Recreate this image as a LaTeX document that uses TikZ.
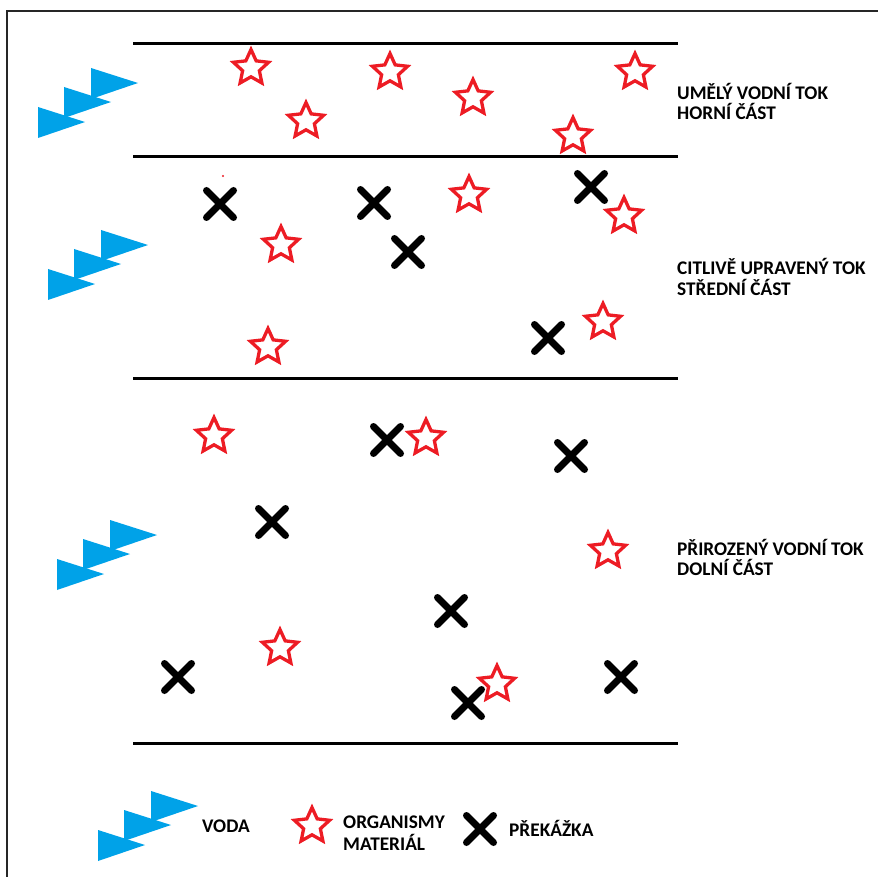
\documentclass[tikz,border=0pt]{standalone}
\usepackage{fontspec}
\setmainfont{Carlito}
\usetikzlibrary{shapes.geometric,shapes.misc}
\definecolor{paintred}{HTML}{ED1C24}
\definecolor{paintblue}{HTML}{00A2E8}
\begin{document}
\begin{tikzpicture}[x=1pt,y=-1pt,
  orgstar/.style={star, star points=5, star point ratio=2.1, draw=paintred, line width=3.3pt, fill=white, minimum size=37pt, inner sep=0pt},
  obst/.style={cross out, draw=black, line width=7pt, line cap=round, minimum size=20pt, inner sep=0pt},
  lane/.style={line width=3pt, black},
  lbl/.style={anchor=base west, inner sep=0pt, font=\fontsize{19.3}{20}\selectfont\bfseries, text=black},
  water/.pic={\foreach \dx/\dy in {0/0, 26/-20, 53/-39}
     \fill[paintblue] (\dx,\dy) -- ++(47,15) -- ++(-47,16) -- cycle;}]
\useasboundingbox (0,0) rectangle (878,877);
\fill[white] (0,0) rectangle (878,877);
% frame
\draw[line width=2pt, black!85] (7,877) -- (7,11) -- (878,11);
% lanes
\draw[lane] (133,44) -- (678,44);
\draw[lane] (133,157) -- (678,157);
\draw[lane] (133,378) -- (678,378);
\draw[lane] (133,743) -- (678,743);
% water symbols
\pic at (38,107) {water};
\pic at (48,269) {water};
\pic at (57,559) {water};
\pic at (98,830) {water};
% stray dot
\fill[paintred] (223,176) circle (1.2);
% stars
\node[orgstar] (s1) at (251,68) {};
\node[orgstar] (s2) at (390,72) {};
\node[orgstar] (s3) at (306,121) {};
\node[orgstar] (s4) at (473,98) {};
\node[orgstar] (s5) at (635,72) {};
\node[orgstar] (s6) at (573,136) {};
\node[orgstar] (s7) at (469,195) {};
\node[orgstar] (s8) at (624,216) {};
\node[orgstar] (s9) at (281,245) {};
\node[orgstar] (s10) at (268,347) {};
\node[orgstar] (s11) at (603,322) {};
\node[orgstar] (s12) at (214,436) {};
\node[orgstar] (s13) at (426,438) {};
\node[orgstar] (s14) at (608,551) {};
\node[orgstar] (s15) at (280,648) {};
\node[orgstar] (s16) at (497,684) {};
\node[orgstar] (s17) at (312,826) {};
% obstacles
\node[obst] (x1) at (220,204) {};
\node[obst] (x2) at (374,203) {};
\node[obst] (x3) at (591,187) {};
\node[obst] (x4) at (408,252) {};
\node[obst] (x5) at (548,338) {};
\node[obst] (x6) at (387,440) {};
\node[obst] (x7) at (571,456) {};
\node[obst] (x8) at (272,522) {};
\node[obst] (x9) at (451,611) {};
\node[obst] (x10) at (178,677) {};
\node[obst] (x11) at (468,703) {};
\node[obst] (x12) at (621,677) {};
\node[obst] (x13) at (480,829) {};
% labels
\node[lbl] (l1a) at (677,100) {UMĚLÝ VODNÍ TOK};
\node[lbl] (l1b) at (677,120) {HORNÍ ČÁST};
\node[lbl] (l2a) at (677,275) {CITLIVĚ UPRAVENÝ TOK};
\node[lbl] (l2b) at (677,295) {STŘEDNÍ ČÁST};
\node[lbl] (l3a) at (677,555) {PŘIROZENÝ VODNÍ TOK};
\node[lbl] (l3b) at (677,575) {DOLNÍ ČÁST};
\node[lbl] (lv) at (202,832) {VODA};
\node[lbl] (lo1) at (343,828) {ORGANISMY};
\node[lbl] (lo2) at (343,850) {MATERIÁL};
\node[lbl] (lp) at (509,836) {PŘEKÁŽKA};
\end{tikzpicture}
\end{document}
